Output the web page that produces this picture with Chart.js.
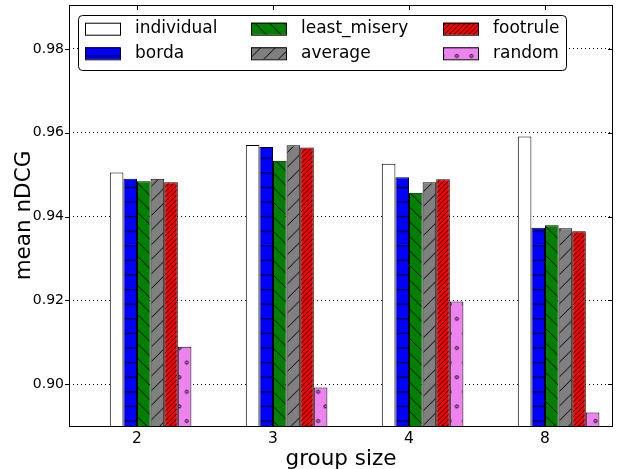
<!DOCTYPE html>
<html>
<head>
<meta charset="utf-8">
<script src="https://cdn.jsdelivr.net/npm/chart.js@4.4.0/dist/chart.umd.min.js"></script>
<style>
  html, body { margin: 0; padding: 0; background: #fff; }
  #wrap { width: 618px; height: 469px; }
</style>
</head>
<body>
<div id="wrap"><canvas id="chart" width="618" height="469"></canvas></div>
<script>
// --- Data ---
const groupSizes = ["2", "3", "4", "8"];
const seriesNames = ["individual", "borda", "least_misery", "average", "footrule", "random"];
const individual = [0.9505, 0.9571, 0.9526, 0.9591];
const borda = [0.9490, 0.9566, 0.9494, 0.9373];
const leastMisery = [0.9484, 0.9533, 0.9457, 0.9379];
const average = [0.9490, 0.9570, 0.9482, 0.9372];
const footrule = [0.9482, 0.9565, 0.9489, 0.9365];
const random = [0.9089, 0.8992, 0.9197, 0.8932];
const yTicks = [0.90, 0.92, 0.94, 0.96, 0.98];

const ctx = document.getElementById("chart").getContext("2d");
Chart.defaults.font.family = "'DejaVu Sans', sans-serif";
Chart.defaults.color = "#000";

// --- Hatch patterns (matplotlib style) ---
const P = 14.6; // hatch spacing in px
const TILE = 146; // 10 * P, so the tile repeats cleanly

function hatch(bg, draw, dx, dy) {
    const c = document.createElement("canvas");
    c.width = TILE;
    c.height = TILE;
    const g = c.getContext("2d");
    g.fillStyle = bg;
    g.fillRect(0, 0, TILE, TILE);
    g.strokeStyle = "#000";
    g.lineWidth = 1;
    if (draw) draw(g);
    const pat = ctx.createPattern(c, "repeat");
    pat.setTransform(new DOMMatrix([1, 0, 0, 1, dx || 0, dy || 0]));
    return pat;
}

function diagonal(step, dir) {
    return function (g) {
        const n = Math.round((2 * TILE) / step);
        g.beginPath();
        for (let k = -n; k <= n; k++) {
            const c = k * step;
            if (dir > 0) {
                // '/' : x + y = c
                g.moveTo(c + 2, -2);
                g.lineTo(c - TILE - 2, TILE + 2);
            } else {
                // '\' : x - y = c
                g.moveTo(c - 2, -2);
                g.lineTo(c + TILE + 2, TILE + 2);
            }
        }
        g.stroke();
    };
}

function horizontal(g) {
    g.beginPath();
    for (let k = 0; k <= 10; k++) {
        g.moveTo(0, k * P);
        g.lineTo(TILE, k * P);
    }
    g.stroke();
}

function circles(g) {
    for (let r = 0; r <= 10; r++) {
        const y = r * P;
        const count = r % 2 === 0 ? 11 : 10;
        const shift = r % 2 === 0 ? 0 : 0.5;
        for (let k = 0; k < count; k++) {
            g.beginPath();
            g.arc((k + shift) * P, y, 1.5, 0, Math.PI * 2);
            g.stroke();
        }
    }
}

const fills = [
    "#ffffff",
    hatch("#0000ff", horizontal, 0, 12.2),
    hatch("#008000", diagonal(P, -1), -1.8, 0),
    hatch("#808080", diagonal(P, 1), 1.8, 0),
    hatch("#ff0000", diagonal(P / 3, 1), 1.8, 0),
    hatch("#ee82ee", circles, 11.5, 12.2),
];
const seriesValues = [individual, borda, leastMisery, average, footrule, random];

// x is a linear scale: one unit per group, bars of 0.1 starting at each integer
const datasets = seriesNames.map((name, s) => ({
    label: name,
    data: groupSizes.map((g, i) => ({ x: i + 0.3, y: seriesValues[s][i] })),
    backgroundColor: fills[s],
    borderColor: "#000",
    borderWidth: 1,
    borderSkipped: false,
    categoryPercentage: 0.6,
    barPercentage: 1.0,
}));

// --- Plugins: axes frame with ticks, boxed legend ---
const framePlugin = {
    id: "frame",
    afterDatasetsDraw(chart) {
        const { ctx: c, chartArea: a, scales } = chart;
        c.save();
        c.strokeStyle = "#000";
        c.lineWidth = 1;
        c.strokeRect(a.left + 0.5, a.top + 0.5, a.right - a.left - 1, a.bottom - a.top);
        c.beginPath();
        scales.y.ticks.forEach((t) => {
            const py = Math.round(scales.y.getPixelForValue(t.value)) + 0.5;
            c.moveTo(a.left - 4, py);
            c.lineTo(a.left + 1, py);
            c.moveTo(a.right - 5, py);
            c.lineTo(a.right, py);
        });
        scales.x.ticks.forEach((t) => {
            const px = Math.round(scales.x.getPixelForValue(t.value)) + 0.5;
            c.moveTo(px, a.top);
            c.lineTo(px, a.top + 5);
            c.moveTo(px, a.bottom);
            c.lineTo(px, a.bottom - 5);
        });
        c.stroke();
        c.restore();
    },
};

function roundRect(c, x, y, w, h, r) {
    c.beginPath();
    c.moveTo(x + r, y);
    c.lineTo(x + w - r, y);
    c.arcTo(x + w, y, x + w, y + r, r);
    c.lineTo(x + w, y + h - r);
    c.arcTo(x + w, y + h, x + w - r, y + h, r);
    c.lineTo(x + r, y + h);
    c.arcTo(x, y + h, x, y + h - r, r);
    c.lineTo(x, y + r);
    c.arcTo(x, y, x + r, y, r);
    c.closePath();
}

const legendPlugin = {
    id: "boxLegend",
    afterDraw(chart) {
        const c = chart.ctx;
        const colX = [85, 251, 443];
        const rowY = [28.7, 53.3];
        c.save();
        roundRect(c, 78.5, 15.5, 488, 55, 4);
        c.fillStyle = "#fff";
        c.fill();
        c.strokeStyle = "#000";
        c.lineWidth = 1;
        c.stroke();
        c.font = "17px 'DejaVu Sans'";
        c.textBaseline = "middle";
        c.textAlign = "left";
        chart.data.datasets.forEach((ds, i) => {
            const x = colX[Math.floor(i / 2)];
            const y = rowY[i % 2];
            c.fillStyle = ds.backgroundColor;
            c.fillRect(x, y - 6, 35, 12);
            c.strokeRect(x + 0.5, y - 5.5, 35, 12);
            c.fillStyle = "#000";
            c.fillText(ds.label, x + 50, y);
        });
        c.restore();
    },
};

// --- Chart ---
new Chart(ctx, {
    type: "bar",
    data: { datasets: datasets },
    options: {
        responsive: false,
        animation: false,
        layout: { padding: { top: 5, right: 5, left: 0, bottom: 0 } },
        plugins: {
            legend: { display: false },
            tooltip: { enabled: false },
        },
        scales: {
            x: {
                type: "linear",
                min: -0.3,
                max: 3.7,
                offset: false,
                grid: { display: false, drawTicks: false, offset: false },
                border: { display: false },
                afterBuildTicks: (scale) => {
                    scale.ticks = groupSizes.map((g, i) => ({ value: i + 0.2 }));
                },
                ticks: {
                    font: { size: 15.5 },
                    padding: 4,
                    maxRotation: 0,
                    autoSkip: false,
                    callback: (value, index) => groupSizes[index],
                },
                title: {
                    display: true,
                    text: "group size",
                    font: { size: 21.5, lineHeight: 1 },
                    padding: { top: 0, bottom: -1 },
                },
                afterFit: (scale) => {
                    scale.height = 43;
                    scale.paddingLeft = 0;
                    scale.paddingRight = 0;
                },
            },
            y: {
                min: 0.89,
                max: 0.9905,
                grid: { color: "#000", lineWidth: 1, drawTicks: false },
                border: { display: false, dash: [1, 3] },
                afterBuildTicks: (scale) => {
                    scale.ticks = yTicks.map((v) => ({ value: v }));
                },
                ticks: {
                    font: { size: 14 },
                    padding: 5,
                    callback: (value) => value.toFixed(2),
                },
                title: {
                    display: true,
                    text: "mean nDCG",
                    font: { size: 21.5, lineHeight: 1 },
                    padding: { top: 13.5, bottom: 0 },
                },
                afterFit: (scale) => {
                    scale.width = 69;
                    scale.paddingTop = 0;
                    scale.paddingBottom = 0;
                },
            },
        },
    },
    plugins: [framePlugin, legendPlugin],
});
</script>
</body>
</html>
